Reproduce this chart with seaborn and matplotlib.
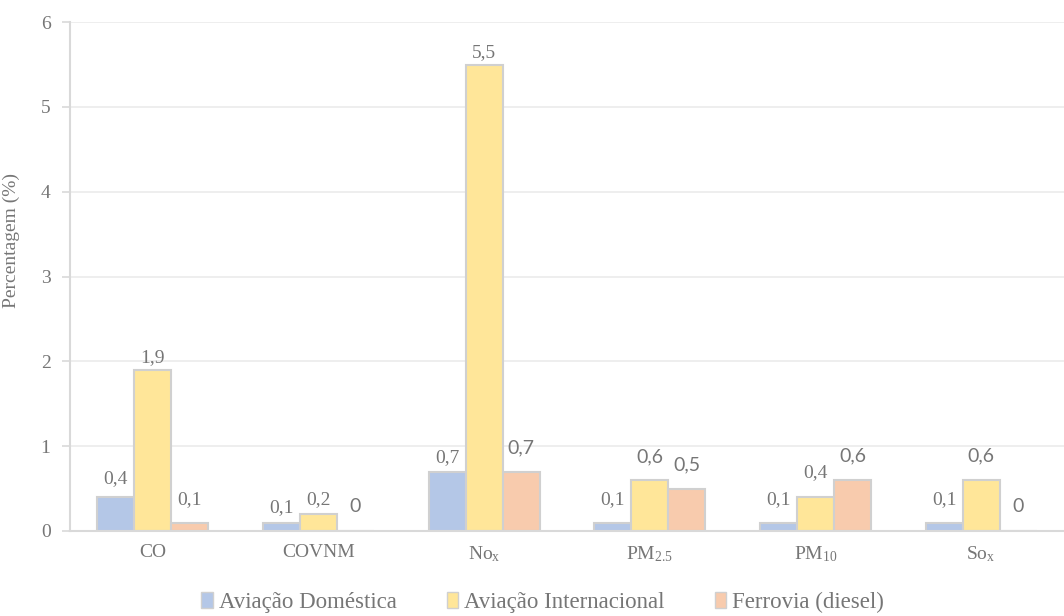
import pandas as pd
import seaborn as sns
import matplotlib.pyplot as plt
from matplotlib.patches import Patch

# chart data
categories = ['CO', 'COVNM', 'No$_x$', 'PM$_{2.5}$', 'PM$_{10}$', 'So$_x$']
series = ['Aviação Doméstica', 'Aviação Internacional', 'Ferrovia (diesel)']
aviacao_domestica = [0.4, 0.1, 0.7, 0.1, 0.1, 0.1]
aviacao_internacional = [1.9, 0.2, 5.5, 0.6, 0.4, 0.6]
ferrovia_diesel = [0.1, 0, 0.7, 0.5, 0.6, 0]

colors = ['#B4C7E7', '#FFE699', '#F8CBAD']
text_col = '#767676'
serif = ['Liberation Serif', 'DejaVu Serif']
sans = ['Lato', 'DejaVu Sans']

# label styling as in the original (some were moved / in a sans font)
label_fonts = [
    [serif] * 6,
    [serif, serif, serif, sans, serif, sans],
    [serif, sans, sans, sans, sans, sans],
]
label_offsets = [
    [18, 15, 14, 23, 23, 23],
    [12, 14, 12, 23, 24, 24],
    [23, 24, 24, 24, 24, 24],
]

df = pd.DataFrame({
    'categoria': categories * 3,
    'serie': [s for s in series for _ in categories],
    'valor': aviacao_domestica + aviacao_internacional + ferrovia_diesel,
})

sns.set_style('white')
plt.rcParams['font.family'] = serif
plt.rcParams['mathtext.default'] = 'regular'

fig = plt.figure(figsize=(10.64, 6.16), dpi=100)
ax = fig.add_axes([0.0658, 0.138, 0.9342, 0.826])

sns.barplot(data=df, x='categoria', y='valor', hue='serie', order=categories,
            hue_order=series, palette=colors, width=0.67, ax=ax,
            edgecolor='#D0D0D0', linewidth=1.5, saturation=1, legend=False)

# value labels
for i, cont in enumerate(ax.containers):
    for j, bar in enumerate(cont):
        v = bar.get_height()
        txt = ('%g' % v).replace('.', ',')
        ax.annotate(txt, (bar.get_x() + bar.get_width() / 2, v),
                    xytext=(0, label_offsets[i][j]), textcoords='offset pixels',
                    ha='center', va='center', fontsize=14, color=text_col,
                    family=label_fonts[i][j])

ax.set_ylim(0, 6)
ax.set_xlim(-0.5, 5.5)
ax.set_yticks(range(7))
ax.yaxis.grid(True, color='#EBEBEB', linewidth=1.2)
ax.set_axisbelow(True)
for s in ['top', 'right']:
    ax.spines[s].set_visible(False)
ax.spines['left'].set_color('#D9D9D9')
ax.spines['bottom'].set_color('#D9D9D9')
ax.spines['left'].set_linewidth(1.5)
ax.spines['bottom'].set_linewidth(1.5)

ax.tick_params(axis='y', left=True, length=6, width=1.2, color='#D9D9D9',
               labelsize=14, labelcolor=text_col, pad=8)
ax.tick_params(axis='x', bottom=False, labelsize=14, labelcolor=text_col, pad=6)

ax.set_xlabel('')
ax.set_ylabel('Percentagem (%)', fontsize=14, color=text_col)
ax.yaxis.set_label_coords(-0.05, 0.57)

handles = [Patch(facecolor=c, edgecolor='#D0D0D0', linewidth=1) for c in colors]
fig.legend(handles, series, loc='center', bbox_to_anchor=(0.51, 0.022), ncol=3,
           frameon=False, prop={'family': 'Liberation Serif', 'size': 16.5},
           labelcolor=text_col, handlelength=0.5,
           handleheight=0.7, handletextpad=0.25, columnspacing=2.2)

plt.savefig('out.png', dpi=100)
